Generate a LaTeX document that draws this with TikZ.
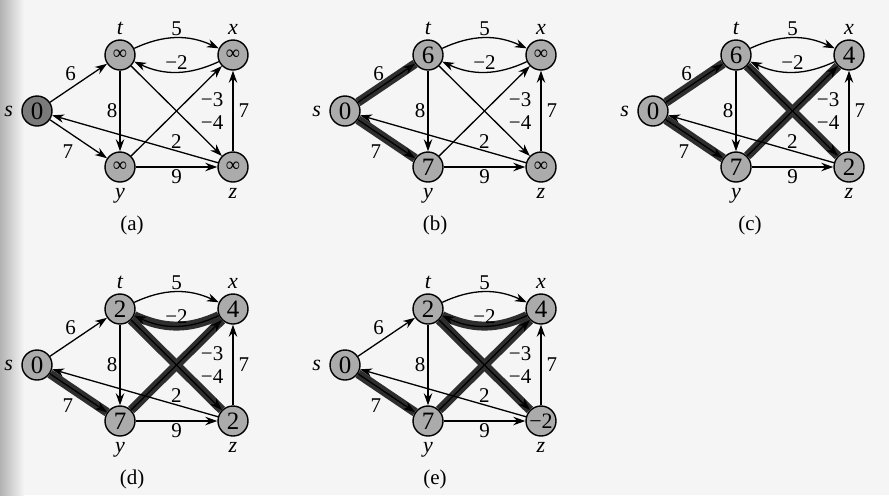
\documentclass[tikz,border=0pt]{standalone}
\usepackage{fontspec}
\setmainfont{Liberation Serif}
\usepackage{tikz}
\usetikzlibrary{arrows.meta, positioning}

\tikzset{
  vertex/.style={circle, draw=black, line width=0.7pt, fill=black!33, minimum size=15pt, inner sep=0pt, font=\fontsize{12.5}{12.5}\selectfont},
  source/.style={fill=black!52},
  inf/.style={font=\fontsize{10}{10}\selectfont},
  tag/.style={font=\fontsize{11}{11}\selectfont\itshape, inner sep=1pt, text height=1.5ex, text depth=0.3ex},
  weight/.style={font=\fontsize{10.5}{10.5}\selectfont, inner sep=1pt},
  caption/.style={font=\fontsize{10.5}{10.5}\selectfont},
  link/.style={line width=0.65pt, -{Stealth[length=6pt, width=4.2pt]}},
  treeedge/.style={line width=4.5pt, black!82},
}

% the ten weighted edges and the vertex names, shared by all five panels
\newcommand{\bfgraph}{%
  \node[tag, left=3pt of s] (sn) {s};
  \node[tag, above=0pt of t] (tn) {t};
  \node[tag, above=0pt of x] (xn) {x};
  \node[tag, below=0pt of y] (yn) {y};
  \node[tag, below=0pt of z] (zn) {z};
  \draw[link] (s) -- node[weight, above left=0pt] (wst) {6} (t);
  \draw[link] (s) -- node[weight, below left=2pt] (wsy) {7} (y);
  \draw[link] (t) to[bend left=25] node[weight, above] (wtx) {5} (x);
  \draw[link] (x) to[bend left=25] node[weight, above] (wxt) {−2} (t);
  \draw[link] (t) -- node[weight, left] (wty) {8} (y);
  \draw[link] (t) -- node[weight, pos=0.63, right=5pt] (wtz) {−4} (z);
  \draw[link] (y) -- node[weight, pos=0.63, right=5pt] (wyx) {−3} (x);
  \draw[link] (z) -- node[weight, right=1.5pt] (wzx) {7} (x);
  \draw[link] (z) -- node[weight, pos=0.25, above] (wzs) {2} (s);
  \draw[link] (y) -- node[weight, below] (wyz) {9} (z);
}

\begin{document}
\begin{tikzpicture}[x=0.5pt, y=-0.5pt]
\useasboundingbox (0,0) rectangle (889,495);
\fill[black!4] (0,0) rectangle (889,495);
\shade[left color=black!30, right color=black!4] (0,0) rectangle (24,495);

% --- (a): after initialization ---
\begin{scope}
\node[vertex, source] (s) at (37,111) {0};
\node[vertex, inf] (t) at (120,55) {∞};
\node[vertex, inf] (x) at (233,55) {∞};
\node[vertex, inf] (y) at (120,167) {∞};
\node[vertex, inf] (z) at (233,167) {∞};
\bfgraph
\node[caption] (capa) at (132,225) {(a)};
\end{scope}

% --- (b) ---
\begin{scope}[shift={(308,0)}]
\node[vertex] (s) at (37,111) {0};
\node[vertex] (t) at (120,55) {6};
\node[vertex, inf] (x) at (233,55) {∞};
\node[vertex] (y) at (120,167) {7};
\node[vertex, inf] (z) at (233,167) {∞};
\draw[treeedge] (s) -- (t);
\draw[treeedge] (s) -- (y);
\bfgraph
\node[caption] (capb) at (127,225) {(b)};
\end{scope}

% --- (c) ---
\begin{scope}[shift={(616,0)}]
\node[vertex] (s) at (37,111) {0};
\node[vertex] (t) at (120,55) {6};
\node[vertex] (x) at (233,55) {4};
\node[vertex] (y) at (120,167) {7};
\node[vertex] (z) at (233,167) {2};
\draw[treeedge] (s) -- (t);
\draw[treeedge] (s) -- (y);
\draw[treeedge] (t) -- (z);
\draw[treeedge] (y) -- (x);
\bfgraph
\node[caption] (capc) at (134,225) {(c)};
\end{scope}

% --- (d) ---
\begin{scope}[shift={(0,254)}]
\node[vertex] (s) at (37,111) {0};
\node[vertex] (t) at (120,55) {2};
\node[vertex] (x) at (233,55) {4};
\node[vertex] (y) at (120,167) {7};
\node[vertex] (z) at (233,167) {2};
\draw[treeedge] (s) -- (y);
\draw[treeedge] (x) to[bend left=25] (t);
\draw[treeedge] (t) -- (z);
\draw[treeedge] (y) -- (x);
\bfgraph
\node[caption] (capd) at (132,225) {(d)};
\end{scope}

% --- (e): final shortest-path weights ---
\begin{scope}[shift={(308,254)}]
\node[vertex] (s) at (37,111) {0};
\node[vertex] (t) at (120,55) {2};
\node[vertex] (x) at (233,55) {4};
\node[vertex] (y) at (120,167) {7};
\node[vertex, font=\fontsize{11}{11}\selectfont] (z) at (233,167) {−2};
\draw[treeedge] (s) -- (y);
\draw[treeedge] (x) to[bend left=25] (t);
\draw[treeedge] (t) -- (z);
\draw[treeedge] (y) -- (x);
\bfgraph
\node[caption] (cape) at (127,225) {(e)};
\end{scope}
\end{tikzpicture}
\end{document}
